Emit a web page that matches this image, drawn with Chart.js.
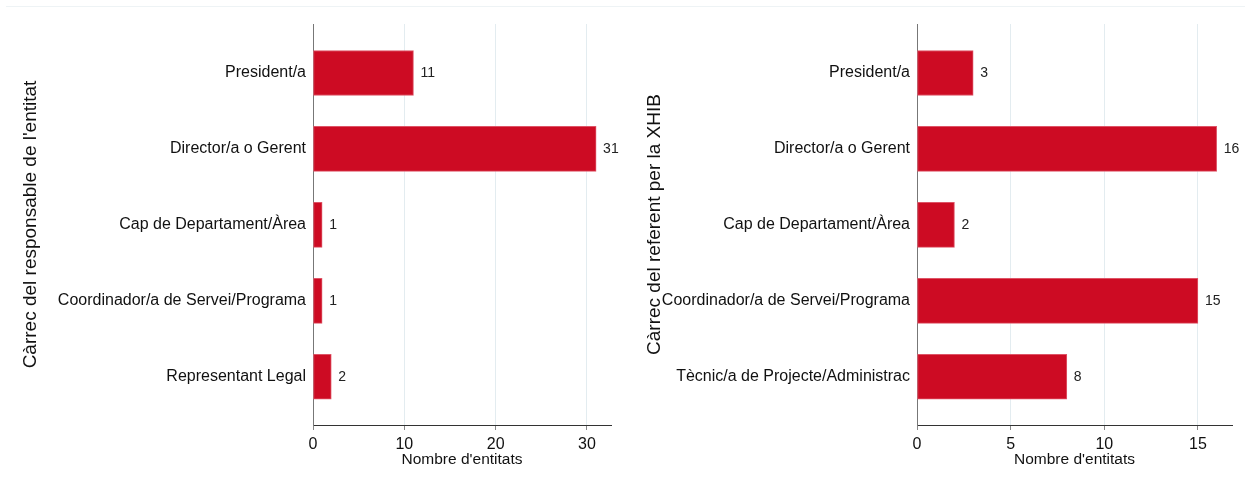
<!DOCTYPE html>
<html>
<head>
<meta charset="utf-8">
<script src="https://cdn.jsdelivr.net/npm/chart.js@4"></script>
<style>
  body { margin: 0; background: #fff; width: 1245px; height: 484px; overflow: hidden; position: relative; }
  .topline { position: absolute; left: 6px; right: 0; top: 6px; border-top: 1px solid #eef3f5; }
  canvas { position: absolute; top: 0; }
  #chartLeft { left: 0; }
  #chartRight { left: 620px; }
</style>
</head>
<body>
<div class="topline"></div>
<canvas id="chartLeft" width="620" height="484"></canvas>
<canvas id="chartRight" width="625" height="484"></canvas>
<script>
// Dades
const responsableLabels = ['President/a', 'Director/a o Gerent', 'Cap de Departament/Àrea', 'Coordinador/a de Servei/Programa', 'Representant Legal'];
const responsableValues = [11, 31, 1, 1, 2];

const referentLabels = ['President/a', 'Director/a o Gerent', 'Cap de Departament/Àrea', 'Coordinador/a de Servei/Programa', 'Tècnic/a de Projecte/Administrac'];
const referentValues = [3, 16, 2, 15, 8];

const xTitle = "Nombre d'entitats";
const leftTitle = "Càrrec del responsable de l'entitat";
const rightTitle = 'Càrrec del referent per la XHIB';

const barColor = '#cd0b23';
const fontFamily = '"Liberation Sans", Arial, sans-serif';

// etiquetes de valor a la dreta de cada barra
const valueLabels = {
    id: 'valueLabels',
    afterDatasetsDraw(chart) {
        const ctx = chart.ctx;
        const meta = chart.getDatasetMeta(0);
        ctx.save();
        ctx.font = '14px ' + fontFamily;
        ctx.fillStyle = '#222';
        ctx.textAlign = 'left';
        ctx.textBaseline = 'middle';
        meta.data.forEach((bar, i) => {
            ctx.fillText(chart.data.datasets[0].data[i].x, bar.x + 7, bar.y);
        });
        ctx.restore();
    }
};

function makeChart(canvasId, labels, values, yTitle, xMax, step, yWidth, pad) {
    const points = values.map((v, i) => ({ x: v, y: i }));
    return new Chart(document.getElementById(canvasId), {
        type: 'bar',
        data: {
            datasets: [{
                data: points,
                backgroundColor: barColor,
                borderColor: '#de5466',
                borderWidth: 1,
                borderSkipped: false,
                barThickness: 45
            }]
        },
        options: {
            indexAxis: 'y',
            responsive: false,
            animation: false,
            devicePixelRatio: 1,
            layout: { padding: pad },
            plugins: { legend: { display: false }, tooltip: { enabled: false } },
            scales: {
                x: {
                    type: 'linear',
                    min: 0,
                    max: xMax,
                    afterFit: (s) => { s.height = 48; },
                    ticks: {
                        stepSize: step,
                        includeBounds: false,
                        color: '#111',
                        padding: 5,
                        font: { family: fontFamily, size: 16 }
                    },
                    grid: { color: '#e3ecf0', tickColor: '#888', tickLength: 5 },
                    border: { color: '#333', width: 1 },
                    title: {
                        display: true,
                        text: xTitle,
                        color: '#111',
                        padding: { top: 0, bottom: 4 },
                        font: { family: fontFamily, size: 15.5 }
                    }
                },
                y: {
                    type: 'linear',
                    reverse: true,
                    offset: false,
                    min: -0.645,
                    max: 4.635,
                    afterFit: (s) => { s.width = yWidth; },
                    ticks: {
                        stepSize: 1,
                        includeBounds: false,
                        padding: 7,
                        color: '#111',
                        font: { family: fontFamily, size: 16 },
                        callback: (v) => labels[v] !== undefined ? labels[v] : ''
                    },
                    grid: { display: false, drawTicks: false, offset: false },
                    border: { display: true, color: '#777', width: 1 },
                    title: {
                        display: true,
                        text: yTitle,
                        color: '#111',
                        padding: { top: 4, bottom: 4 },
                        font: { family: fontFamily, size: 19 }
                    }
                }
            }
        },
        plugins: [valueLabels]
    });
}

makeChart('chartLeft', responsableLabels, responsableValues, leftTitle, 32.63, 10, 298,
    { left: 15, right: 9, top: 24, bottom: 11 });
makeChart('chartRight', referentLabels, referentValues, rightTitle, 16.82, 5, 278,
    { left: 19, right: 13, top: 24, bottom: 11 });
</script>
</body>
</html>
